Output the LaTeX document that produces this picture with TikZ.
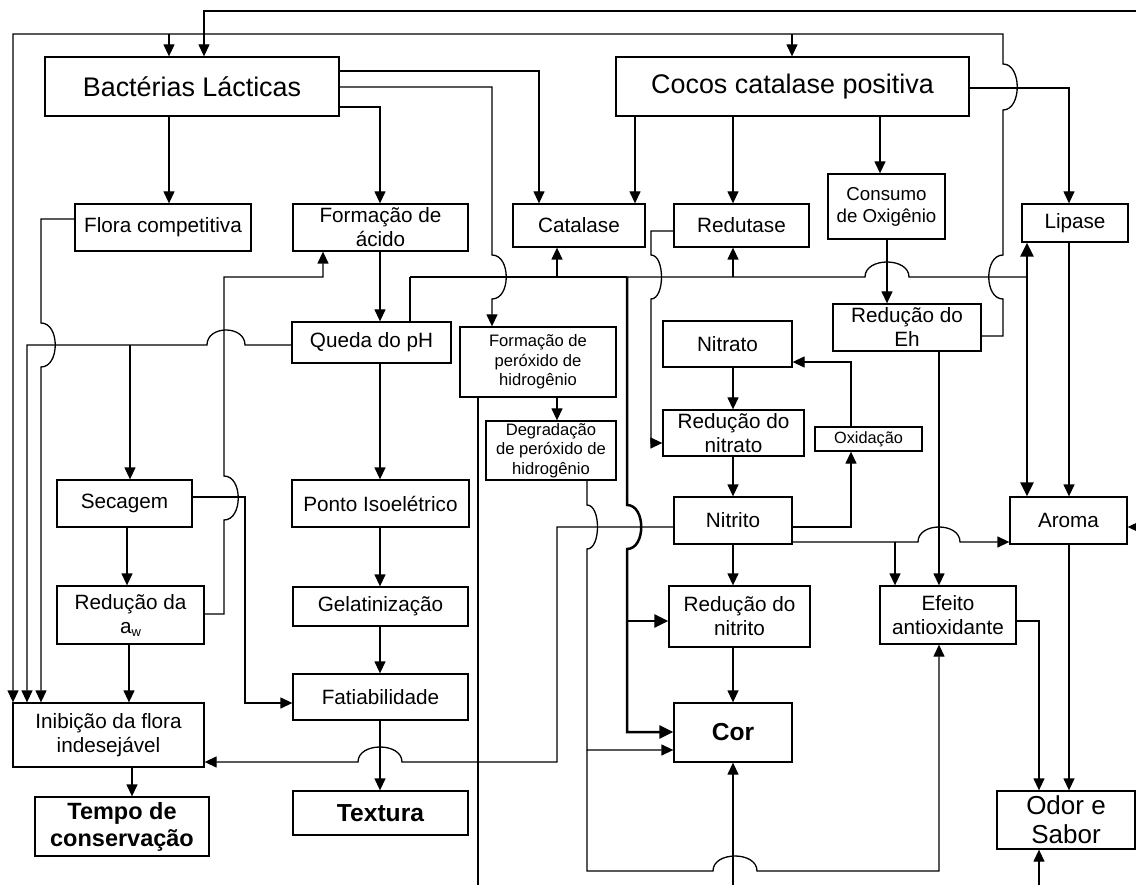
\documentclass[tikz,border=0pt]{standalone}
\usepackage{fontspec}
\setmainfont{Liberation Sans}
\usetikzlibrary{arrows.meta}
\newcommand\szMed{\fontsize{20.7}{24}\selectfont}
\newcommand\szCons{\fontsize{18.7}{22}\selectfont}
\newcommand\szSm{\fontsize{16.6}{19.7}\selectfont}
\newcommand\szHead{\fontsize{26.9}{30}\selectfont}
\newcommand\szBig{\fontsize{24.6}{28}\selectfont\bfseries}
\newcommand\szOut{\fontsize{23.5}{27}\selectfont\bfseries}
\tikzset{
  box/.style={draw, line width=1.3pt, inner sep=0pt, align=center, font=\szMed},
  ln/.style={line width=1.3pt},
  arr/.style={ln, -{Triangle[width=11pt,length=12pt]}},
  thk/.style={line width=2.5pt},
  tarr/.style={thk, -{Triangle[width=13pt,length=14pt]}},
}
\begin{document}
\begin{tikzpicture}[x=1pt,y=-1pt]
\fill[white] (0,0) rectangle (1136,885);
\useasboundingbox (0,0) rectangle (1136,885);

% ---------- nodes ----------
\node[box,font=\szHead,minimum width=294pt,minimum height=59pt] (bact) at (192,86.5) {Bactérias Lácticas};
\node[box,font=\szHead,minimum width=353pt,minimum height=59pt] (cocos) at (792.5,86.5) {Cocos catalase positiva};
\node[box,minimum width=176pt,minimum height=47pt] (flora) at (163,227.5) {Flora competitiva};
\node[box,minimum width=175pt,minimum height=47pt] (fac) at (380.5,227.5) {Formação de\\ácido};
\node[box,minimum width=132pt,minimum height=43pt] (cat) at (579,225.5) {Catalase};
\node[box,minimum width=135pt,minimum height=43pt] (red) at (741.5,225.5) {Redutase};
\node[box,font=\szCons,minimum width=117pt,minimum height=65pt] (cons) at (886.5,206.5) {Consumo\\de Oxigênio};
\node[box,minimum width=106pt,minimum height=38pt] (lip) at (1075,223) {Lipase};
\node[box,minimum width=159pt,minimum height=41pt] (queda) at (371.5,342.5) {Queda do pH};
\node[box,font=\szSm,minimum width=156pt,minimum height=70pt] (fper) at (538,362) {Formação de\\peróxido de\\hidrogênio};
\node[box,font=\szSm,minimum width=130pt,minimum height=59pt] (dper) at (551,450.5) {Degradação\\de peróxido de\\hidrogênio};
\node[box,minimum width=129pt,minimum height=46pt] (nitrato) at (727.5,344) {Nitrato};
\node[box,minimum width=141pt,minimum height=46pt] (rnitrato) at (733.5,433) {Redução do\\nitrato};
\node[box,minimum width=118pt,minimum height=47pt] (nitrito) at (733,520.5) {Nitrito};
\node[box,font=\fontsize{16.3}{19}\selectfont,minimum width=107pt,minimum height=24pt] (oxid) at (868.5,439) {Oxidação};
\node[box,minimum width=148pt,minimum height=47pt] (reh) at (907,327.5) {Redução do\\Eh};
\node[box,minimum width=117pt,minimum height=47pt] (aroma) at (1068.5,520.5) {Aroma};
\node[box,minimum width=135pt,minimum height=47pt] (sec) at (124.5,503.5) {Secagem};
\node[box,minimum width=177pt,minimum height=47pt] (ponto) at (380.5,503.5) {Ponto Isoelétrico};
\node[box,minimum width=147pt,minimum height=58pt] (raw) at (130.5,615) {Redução da\\a{\fontsize{13}{13}\selectfont\raisebox{-3pt}{w}}};
\node[box,minimum width=175pt,minimum height=39pt] (gel) at (380.5,606.5) {Gelatinização};
\node[box,minimum width=175pt,minimum height=46pt] (fat) at (380.5,697) {Fatiabilidade};
\node[box,minimum width=191pt,minimum height=64pt] (inib) at (108.5,735) {Inibição da flora\\indesejável};
\node[box,font=\szOut,minimum width=174pt,minimum height=59pt] (tempo) at (122,826.5) {Tempo de\\conservação};
\node[box,font=\szBig,minimum width=175pt,minimum height=44pt] (textura) at (380.5,813) {Textura};
\node[box,minimum width=141pt,minimum height=61pt] (rnitrito) at (739.5,616.5) {Redução do\\nitrito};
\node[box,font=\szBig,minimum width=118pt,minimum height=59pt] (cor) at (733,732.5) {Cor};
\node[box,minimum width=136pt,minimum height=58pt] (efeito) at (948,615) {Efeito\\antioxidante};
\node[box,font=\fontsize{26}{29}\selectfont,minimum width=138pt,minimum height=58pt] (odor) at (1066,820) {Odor e\\Sabor};

% free ends (lines leaving the picture)
\coordinate (topR) at (1142,11);
\coordinate (rightR) at (1142,527);
\coordinate (botA) at (478,892);
\coordinate (botB) at (733,892);
\coordinate (botC) at (1039,892);

% ---------- connectors ----------
% Bacterias Lacticas
\draw[arr] (bact.south -| 169,0) -- (flora.north -| 169,0);
\draw[arr] (bact.east |- 0,107) -- (380,107) -- (fac.north -| 380,0);
\draw[arr] (bact.east |- 0,71) -- (539,71) -- (cat.north -| 539,0);
\draw[arr] (bact.east |- 0,87) -- (492,87) -- (492,255) .. controls (511,255) and (511,299) .. (492,299) -- (fper.north -| 492,0);

% Cocos
\draw[arr] (cocos.south -| 635,0) -- (cat.north -| 635,0);
\draw[arr] (cocos.south -| 733,0) -- (red.north -| 733,0);
\draw[arr] (cocos.south -| 880,0) -- (cons.north -| 880,0);
\draw[arr] (cocos.east |- 0,88) -- (1069,88) -- (lip.north -| 1069,0);
\draw[arr] (cons.south -| 887,0) -- (reh.north -| 887,0);

% Reducao do Eh feedback
\draw[arr] (reh.east |- 0,336) -- (1003,336) -- (1003,299) .. controls (984,299) and (984,255) .. (1003,255)
  -- (1003,110) .. controls (1022,110) and (1022,64) .. (1003,64) -- (1003,34) -- (13,34) -- (inib.north -| 13,0);
\draw[arr] (169,34) -- (bact.north -| 169,0);
\draw[arr] (792,34) -- (cocos.north -| 792,0);

% lines from outside the picture
\draw[arr] (topR) -- (204,11) -- (bact.north -| 204,0);
\draw[arr] (rightR) -- (aroma.east |- 0,527);

% Flora competitiva
\draw[arr] (flora.west |- 0,219) -- (41,219) -- (41,323) .. controls (60,323) and (60,367) .. (41,367) -- (inib.north -| 41,0);

% Queda do pH left
\draw[arr] (queda.west |- 0,345) -- (245,345) .. controls (245,325) and (207,325) .. (207,345) -- (27,345) -- (inib.north -| 27,0);
\draw[arr] (130,345) -- (sec.north -| 130,0);

% Queda do pH up (enzymes)
\draw[ln] (queda.north -| 410,0) -- (410,277);
\draw[thk] (410,277) -- (627,277);
\draw[ln] (627,277) -- (865,277) .. controls (865,257) and (909,257) .. (909,277) -- (1027,277);
\draw[arr] (557,277) -- (cat.south -| 557,0);
\draw[arr] (733,277) -- (red.south -| 733,0);
\draw[tarr] (1027,277) -- (lip.south -| 1027,0);
\draw[tarr] (1027,277) -- (aroma.north -| 1027,0);
\draw[tarr] (627,277) -- (627,505) .. controls (646,505) and (646,549) .. (627,549) -- (627,732) -- (cor.west |- 0,732);
\draw[tarr] (627,621) -- (rnitrito.west |- 0,621);

% Redutase -> Reducao do nitrato
\draw[arr] (red.west |- 0,231) -- (651,231) -- (651,255) .. controls (665,255) and (665,299) .. (651,299) -- (651,443) -- (rnitrato.west |- 0,443);

% Reducao da aw -> Formacao de acido
\draw[arr] (raw.east |- 0,614) -- (224,614) -- (224,520) .. controls (243,520) and (243,476) .. (224,476) -- (224,277) -- (323,277) -- (fac.south -| 323,0);

% Secagem -> Fatiabilidade
\draw[arr] (sec.east |- 0,497) -- (245,497) -- (245,703) -- (fat.west |- 0,703);

% left column
\draw[arr] (sec.south -| 127,0) -- (raw.north -| 127,0);
\draw[arr] (raw.south -| 129,0) -- (inib.north -| 129,0);
\draw[arr] (inib.south -| 132,0) -- (tempo.north -| 132,0);

% middle column
\draw[arr] (fac.south -| 380,0) -- (queda.north -| 380,0);
\draw[arr] (queda.south -| 380,0) -- (ponto.north -| 380,0);
\draw[arr] (ponto.south -| 380,0) -- (gel.north -| 380,0);
\draw[arr] (gel.south -| 380,0) -- (fat.north -| 380,0);
\draw[arr] (fat.south -| 380,0) -- (textura.north -| 380,0);

% peroxide
\draw[arr] (fper.south -| 557,0) -- (dper.north -| 557,0);
\draw[ln] (fper.south -| 478,0) -- (botA);
\draw[arr] (dper.south -| 587,0) -- (587,505) .. controls (601,505) and (601,549) .. (587,549) -- (587,750) -- (cor.west |- 0,750);
\draw[arr] (587,750) -- (587,871) -- (713,871) .. controls (713,851) and (757,851) .. (757,871) -- (939,871) -- (efeito.south -| 939,0);

% Nitrito
\draw[arr] (nitrito.west |- 0,527) -- (557,527) -- (557,762) -- (402,762) .. controls (402,742) and (358,742) .. (358,762) -- (inib.east |- 0,762);
\draw[arr] (nitrito.east |- 0,527) -- (851,527) -- (oxid.south -| 851,0);
\draw[arr] (oxid.north -| 851,0) -- (851,362) -- (nitrato.east |- 0,362);
\draw[arr] (nitrito.east |- 0,542) -- (918,542) .. controls (918,522) and (960,522) .. (960,542) -- (aroma.west |- 0,542);
\draw[arr] (895,542) -- (efeito.north -| 895,0);
\draw[arr] (reh.south -| 939,0) -- (efeito.north -| 939,0);

% nitrate chain
\draw[arr] (nitrato.south -| 733,0) -- (rnitrato.north -| 733,0);
\draw[arr] (rnitrato.south -| 733,0) -- (nitrito.north -| 733,0);
\draw[arr] (nitrito.south -| 733,0) -- (rnitrito.north -| 733,0);
\draw[arr] (rnitrito.south -| 733,0) -- (cor.north -| 733,0);
\draw[arr] (botB) -- (cor.south -| 733,0);

% right column
\draw[arr] (lip.south -| 1069,0) -- (aroma.north -| 1069,0);
\draw[arr] (aroma.south -| 1069,0) -- (odor.north -| 1069,0);
\draw[arr] (efeito.east |- 0,621) -- (1039,621) -- (odor.north -| 1039,0);
\draw[arr] (botC) -- (odor.south -| 1039,0);
\end{tikzpicture}
\end{document}
